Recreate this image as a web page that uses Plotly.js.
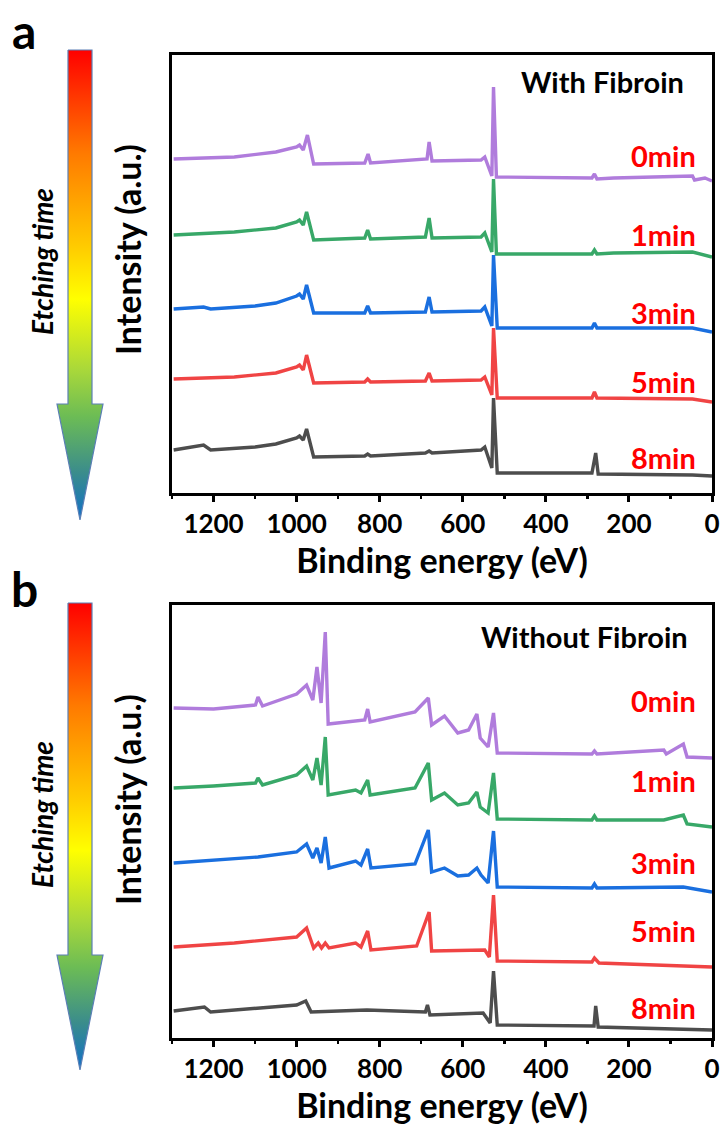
<!DOCTYPE html>
<html>
<head>
<meta charset="utf-8">
<script src="https://cdn.plot.ly/plotly-3.0.1.min.js"></script>
<style>html,body{margin:0;padding:0;background:#fff;}#chart{width:721px;height:1126px;}</style>
</head>
<body>
<div id="chart"></div>
<script>
// ---------- Data (binding energy in eV, intensity in arbitrary offset units) ----------
var seriesNames = ["0min", "1min", "3min", "5min", "8min"];
var seriesColors = ["#b07cdc", "#38a868", "#1a6fdf", "#f04444", "#4d4d4d"];

// Panel a: With Fibroin
var a0E = [1296, 1150, 1050, 1000, 993, 984, 974, 959, 836, 828, 822, 711, 686, 681, 674, 556, 547, 530, 526, 519, 289, 283, 277, 237, 47, 42, 17, 0];
var a0I = [334, 336, 341, 346, 348, 343, 358, 329, 330, 339, 330, 333, 334, 351, 332, 333, 336, 317, 406, 316, 315, 319, 314, 315, 317, 313, 315, 312];
var a1E = [1296, 1150, 1050, 1000, 993, 984, 976, 959, 836, 829, 822, 690, 681, 674, 556, 547, 530, 526, 519, 289, 283, 277, 237, 47, 0];
var a1I = [258, 261, 265, 271, 273, 268, 281, 253, 255, 263, 254, 256, 275, 255, 256, 260, 241, 314, 239, 239, 243, 239, 240, 241, 236];
var a3E = [1296, 1224, 1207, 1100, 1050, 1000, 993, 984, 976, 959, 836, 829, 822, 690, 681, 674, 556, 547, 530, 526, 517, 289, 283, 277, 47, 0];
var a3I = [184, 186, 184, 187, 190, 197, 199, 194, 208, 180, 180, 187, 180, 181, 196, 181, 182, 186, 167, 238, 165, 165, 170, 165, 165, 161];
var a5E = [1296, 1150, 1050, 1000, 993, 984, 976, 959, 836, 829, 822, 690, 681, 674, 556, 547, 530, 526, 517, 289, 283, 277, 47, 0];
var a5I = [114, 116, 120, 126, 128, 123, 138, 110, 111, 114, 111, 112, 120, 112, 113, 116, 98, 165, 95, 95, 101, 95, 94, 91];
var a8E = [1296, 1224, 1207, 1100, 1050, 1000, 993, 984, 976, 959, 836, 829, 822, 690, 681, 674, 556, 547, 530, 526, 517, 289, 280, 274, 47, 0];
var a8I = [43, 48, 43, 46, 49, 55, 57, 53, 64, 36, 37, 39, 37, 40, 42, 40, 43, 46, 25, 95, 20, 20, 40, 19, 18, 17];

// Panel b: Without Fibroin
var b0E = [1296, 1200, 1099, 1093, 1082, 1000, 976, 961, 951, 941, 931, 924, 836, 829, 823, 715, 683, 675, 644, 612, 586, 566, 558, 539, 526, 517, 289, 283, 277, 116, 110, 69, 60, 0];
var b0I = [330, 329, 333, 341, 332, 344, 353, 338, 371, 335, 406, 314, 318, 329, 316, 326, 340, 313, 322, 305, 308, 324, 300, 291, 325, 285, 284, 287, 284, 288, 284, 294, 281, 280];
var b1E = [1296, 1200, 1099, 1093, 1082, 1000, 976, 961, 951, 941, 931, 924, 858, 845, 829, 823, 715, 683, 675, 644, 612, 586, 566, 558, 539, 526, 517, 289, 283, 277, 116, 69, 60, 0];
var b1I = [250, 252, 255, 260, 253, 263, 272, 258, 280, 253, 301, 243, 248, 245, 258, 243, 250, 275, 238, 245, 233, 235, 246, 231, 225, 265, 219, 218, 222, 218, 218, 223, 214, 211];
var b3E = [1296, 1200, 1093, 1000, 976, 961, 951, 941, 931, 922, 858, 845, 829, 821, 715, 683, 675, 644, 612, 586, 566, 556, 539, 526, 517, 289, 283, 277, 69, 0];
var b3I = [175, 178, 181, 186, 194, 180, 190, 175, 201, 170, 177, 173, 189, 170, 174, 208, 166, 170, 162, 163, 170, 163, 155, 207, 151, 150, 154, 150, 151, 146];
var b5E = [1296, 1150, 1000, 976, 959, 948, 940, 931, 922, 858, 845, 829, 821, 711, 681, 675, 547, 536, 526, 517, 289, 283, 272, 0];
var b5I = [91, 95, 101, 110, 90, 95, 90, 95, 90, 95, 91, 107, 88, 92, 126, 87, 88, 81, 143, 77, 76, 80, 75, 71];
var b8E = [1296, 1222, 1207, 1000, 978, 965, 831, 690, 685, 679, 551, 534, 526, 517, 284, 280, 274, 0];
var b8I = [27, 31, 26, 33, 37, 26, 28, 26, 33, 23, 25, 15, 67, 13, 12, 32, 11, 8];

var xTickVals = [1200, 1000, 800, 600, 400, 200, 0];
var xTickText = ["1200", "1000", "800", "600", "400", "200", "0"];

// Etching-time arrow outline (pixel space of the left decoration column)
var arrowAX = [68, 92, 92, 103, 80, 57, 68, 68];
var arrowAY = [50, 50, 404, 404, 520, 404, 404, 50];
var arrowBX = [68, 92, 92, 103, 80, 57, 68, 68];
var arrowBY = [603, 603, 955, 955, 1070, 955, 955, 603];
var arrowScale = [[0, "#ff0000"], [0.22, "#ff7a00"], [0.42, "#ffcc00"], [0.53, "#ffff00"], [0.68, "#a9d83a"], [0.78, "#6cbc55"], [0.9, "#3a8c8c"], [1, "#1070c8"]];

// ---------- Build ----------
var W = 721, H = 1126;
function px(x) { return x / W; }
function py(y) { return 1 - y / H; }
var FONT = "Lato, 'Open Sans', sans-serif";

var panelA = {E: [a0E, a1E, a3E, a5E, a8E], I: [a0I, a1I, a3I, a5I, a8I]};
var panelB = {E: [b0E, b1E, b3E, b5E, b8E], I: [b0I, b1I, b3I, b5I, b8I]};

var traces = [];
[[panelA, "x", "y"], [panelB, "x2", "y2"]].forEach(function (p) {
  for (var k = 0; k < 5; k++) {
    traces.push({
      type: "scatter", mode: "lines", x: p[0].E[k], y: p[0].I[k],
      xaxis: p[1], yaxis: p[2], name: seriesNames[k],
      line: {color: seriesColors[k], width: 3.4}, hoverinfo: "skip"
    });
  }
});
[[arrowAX, arrowAY], [arrowBX, arrowBY]].forEach(function (ar) {
  var ys = ar[1];
  traces.push({
    type: "scatter", mode: "lines", x: ar[0], y: ys, xaxis: "x3", yaxis: "y3",
    fill: "toself",
    fillgradient: {type: "vertical", colorscale: arrowScale, start: Math.min.apply(null, ys), stop: Math.max.apply(null, ys)},
    line: {color: "#5b7fb5", width: 1.2}, hoverinfo: "skip"
  });
});

function xAxis(anchor) {
  return {
    domain: [px(172), px(712)], anchor: anchor, range: [1300, 0],
    tickmode: "array", tickvals: xTickVals, ticktext: xTickText,
    ticks: "outside", ticklen: 6, tickwidth: 3, tickcolor: "#000",
    minor: {tickmode: "linear", tick0: 0, dtick: 100, ticks: "outside", ticklen: 3, tickwidth: 2.5, tickcolor: "#000"},
    linecolor: "#000", linewidth: 3, mirror: true, showgrid: false, zeroline: false,
    tickfont: {family: FONT, size: 26, color: "#000", weight: "bold"},
    ticklabelstandoff: 0,
    title: {text: "Binding energy (eV)", font: {family: FONT, size: 34, color: "#000", weight: "bold"}, standoff: 0}
  };
}
function yAxis(top, bottom, anchor, h) {
  return {
    domain: [py(bottom), py(top)], anchor: anchor, range: [0, h],
    showticklabels: false, ticks: "", linecolor: "#000", linewidth: 3, mirror: true,
    showgrid: false, zeroline: false
  };
}

var ann = [];
function txt(t, x, y, size, color, opts) {
  var a = {text: t, x: px(x), y: py(y), xref: "paper", yref: "paper", showarrow: false,
    font: {family: FONT, size: size, color: color, weight: "bold"}, xanchor: "center", yanchor: "middle"};
  for (var k in opts) a[k] = opts[k];
  ann.push(a);
}
// panel letters
txt("a", 24, 0, 48, "#000", {yanchor: "top"});
txt("b", 24, 558, 48, "#000", {yanchor: "top"});
// Etching time + intensity labels
[[262, 250], [815, 800]].forEach(function (p) {
  txt("<i>Etching time</i>", 42, p[0], 28, "#000", {textangle: -90});
  txt("Intensity (a.u.)", 127, p[1], 34, "#000", {textangle: -90});
});
txt("With Fibroin", 602, 82, 29, "#000", {});
txt("Without Fibroin", 584, 636, 29, "#000", {});
var labelYA = [155, 234, 312, 381, 457];
var labelYB = [700, 780, 862, 930, 1007];
for (var k = 0; k < 5; k++) {
  txt(seriesNames[k], 698, labelYA[k], 29, "#ff0000", {xanchor: "right"});
  txt(seriesNames[k], 698, labelYB[k], 29, "#ff0000", {xanchor: "right"});
}

var layout = {
  width: W, height: H, margin: {l: 0, r: 0, t: 0, b: 0},
  paper_bgcolor: "#fff", plot_bgcolor: "rgba(0,0,0,0)", showlegend: false,
  font: {family: FONT, color: "#000"},
  xaxis: xAxis("y"),
  yaxis: yAxis(55, 493, "x", 438),
  xaxis2: xAxis("y2"),
  yaxis2: yAxis(605, 1038, "x2", 433),
  xaxis3: {domain: [0, 0.2], range: [0, 0.2 * W], visible: false, fixedrange: true, anchor: "y3"},
  yaxis3: {domain: [0, 1], range: [H, 0], visible: false, fixedrange: true, anchor: "x3"},
  annotations: ann
};

Plotly.newPlot("chart", traces, layout, {displayModeBar: false, staticPlot: true});
</script>
</body>
</html>
